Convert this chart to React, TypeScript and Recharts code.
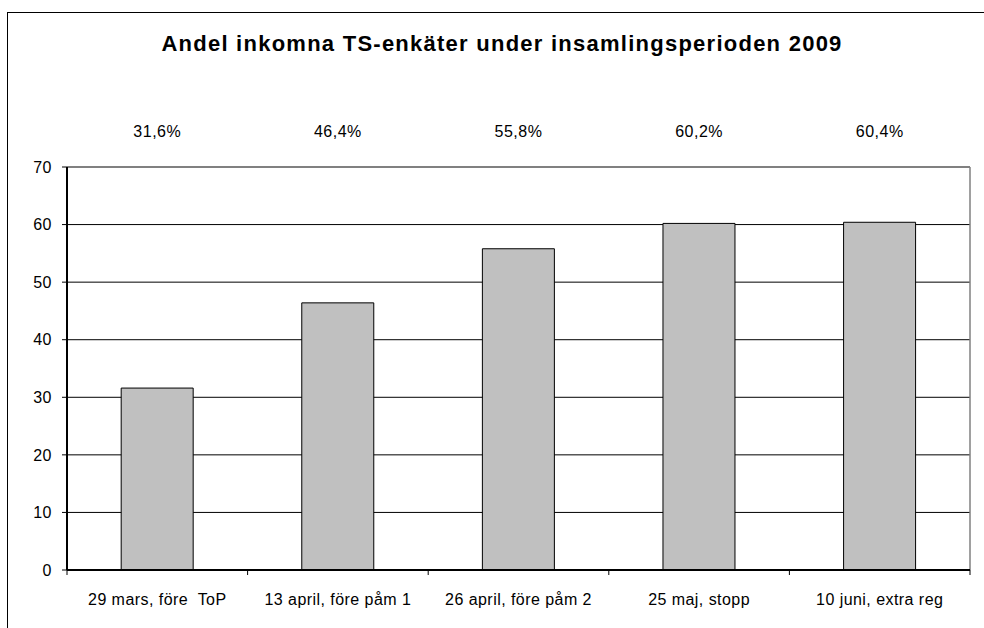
import React from "react";
import { BarChart, Bar, XAxis, YAxis, CartesianGrid } from "recharts";

const categories = [
  "29 mars, före  ToP",
  "13 april, före påm 1",
  "26 april, före påm 2",
  "25 maj, stopp",
  "10 juni, extra reg",
];
const values = [31.6, 46.4, 55.8, 60.2, 60.4];
const pctLabels = ["31,6%", "46,4%", "55,8%", "60,2%", "60,4%"];
const yTicks = [0, 10, 20, 30, 40, 50, 60, 70];
const title = "Andel inkomna TS-enkäter under insamlingsperioden 2009";

const data = categories.map((c, i) => ({ cat: c, value: values[i], pct: pctLabels[i] }));

const FONT = "'Liberation Sans', Arial, sans-serif";

const BottomTick = (props: any) => {
  const { x, y, payload, index } = props;
  const off = payload.offset || 0;
  const last = index === categories.length - 1;
  return (
    <g>
      <line x1={x - off} y1={y - 8} x2={x - off} y2={y - 3} stroke="#000" strokeWidth={1} />
      {last && <line x1={x + off} y1={y - 8} x2={x + off} y2={y - 3} stroke="#000" strokeWidth={1} />}
      <text x={x} y={y + 27} textAnchor="middle" fontSize={16} letterSpacing={0.45} fontFamily={FONT} fill="#000" style={{ whiteSpace: "pre" }}>
        {payload.value}
      </text>
    </g>
  );
};

export default function App() {
  return (
    <div style={{ position: "absolute", left: 0, top: 0, width: 984, height: 628, overflow: "hidden", background: "#fff" }}>
      <div
        style={{
          position: "absolute",
          left: 7,
          top: 12,
          width: 1200,
          height: 1000,
          borderLeft: "1.5px solid #000",
          borderTop: "1.5px solid #000",
        }}
      />
      <div
        style={{
          position: "absolute",
          left: 0,
          top: 31,
          width: 1004,
          textAlign: "center",
          fontFamily: FONT,
          fontWeight: "bold",
          fontSize: 22,
          letterSpacing: 1.25,
          color: "#000",
        }}
      >
        {title}
      </div>
      <div style={{ position: "absolute", left: 0, top: 0 }}>
        <BarChart width={984} height={628} data={data} margin={{ top: 0, right: 14, bottom: 0, left: 0 }} barCategoryGap="30%">
          <CartesianGrid vertical={false} stroke="#000" strokeWidth={1} />
          <CartesianGrid
            horizontal={true}
            vertical={true}
            stroke="#808080"
            strokeWidth={1.5}
            horizontalCoordinatesGenerator={({ offset }: any) => [offset.top]}
            verticalCoordinatesGenerator={({ offset }: any) => [offset.left + offset.width]}
          />
          <XAxis
            xAxisId="top"
            orientation="top"
            dataKey="pct"
            height={167}
            axisLine={false}
            tickLine={false}
            tickMargin={24}
            tick={{ fontSize: 16, fontFamily: FONT, fill: "#000", letterSpacing: 0.5 }}
          />
          <XAxis
            dataKey="cat"
            height={58}
            axisLine={{ stroke: "#000", strokeWidth: 2 }}
            tickLine={false}
            tick={<BottomTick />}
            interval={0}
          />
          <YAxis
            width={67}
            domain={[0, 70]}
            ticks={yTicks}
            interval={0}
            axisLine={{ stroke: "#000", strokeWidth: 2 }}
            tickLine={{ stroke: "#000" }}
            tickSize={5}
            tickMargin={10}
            tick={{ fontSize: 16, fontFamily: FONT, fill: "#000", letterSpacing: 0.5 }}
          />
          <Bar xAxisId={0} dataKey="value" fill="#c0c0c0" stroke="#000" strokeWidth={1} isAnimationActive={false} />
        </BarChart>
      </div>
    </div>
  );
}
